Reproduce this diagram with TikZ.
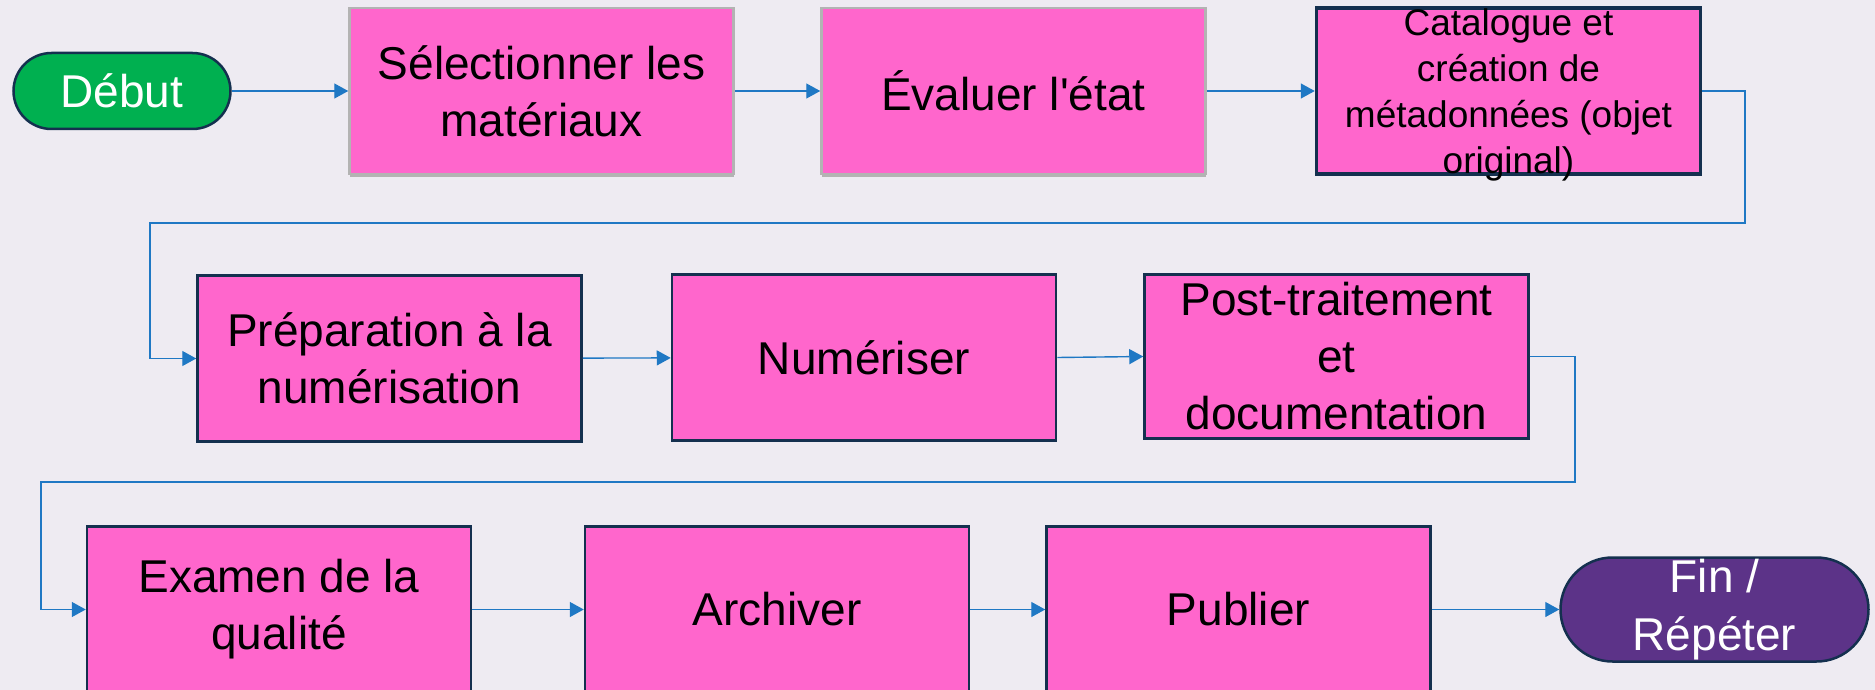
\documentclass[tikz,border=0pt]{standalone}
\usepackage{fontspec}
\setmainfont{Liberation Sans}
\usetikzlibrary{arrows.meta,shadows}
\definecolor{bgc}{HTML}{EEEBF2}
\definecolor{pinkfill}{HTML}{FF66CC}
\definecolor{navy}{HTML}{14304F}
\definecolor{startgreen}{HTML}{00B050}
\definecolor{endpurple}{HTML}{5C3388}
\definecolor{flowblue}{HTML}{1F78C4}
\definecolor{softgray}{HTML}{B3B3B3}
\newcommand\flowfont{\fontsize{46}{57}\selectfont}
\newcommand\smallflowfont{\fontsize{37}{46}\selectfont}
\tikzset{
  stepbox/.style={draw=navy, line width=2.5pt, fill=pinkfill, inner sep=0pt,
    minimum width=384pt, minimum height=166pt, align=center, font=\flowfont},
  lightbox/.style={stepbox, draw=softgray,
    drop shadow={shadow xshift=0pt, shadow yshift=-3pt, fill=softgray, opacity=1}},
  pill/.style={draw=navy, line width=2.5pt, rounded corners=#1, inner sep=0pt,
    align=center, font=\flowfont, text=white},
  flow/.style={draw=flowblue, line width=1.4pt,
    -{Triangle[length=14pt,width=15pt]}}
}
\begin{document}
\begin{tikzpicture}[x=1pt,y=-1pt]
\useasboundingbox (0,0) rectangle (1875,690);
\fill[bgc] (0,0) rectangle (1875,690);
\begin{scope}
\clip (0,0) rectangle (1875,690);

% first row
\node[pill=38pt, fill=startgreen, minimum width=217pt, minimum height=76pt] (debut) at (122,91) {Début};
\node[lightbox] (sel) at (541.5,91) {Sélectionner les\\matériaux};
\node[lightbox] (eval) at (1013.5,91) {Évaluer l\textquotesingle état};
\node[stepbox, line width=3.5pt] (cat) at (1508.5,91) {};
\node[font=\smallflowfont, align=center, inner sep=0pt] (cattext) at ([yshift=-4pt]cat.center)
  {Catalogue et\\création de\\métadonnées (objet\\original)};

% second row
\node[stepbox] (prep) at (389.5,358.5) {Préparation à la\\numérisation};
\node[stepbox] (num) at (864,357.5) {Numériser};
\node[stepbox, minimum height=164pt] (post) at (1336.5,356.5) {Post-traitement\\et\\documentation};

% third row
\node[stepbox] (exam) at (279,609.5) {Examen de la\\qualité};
\node[stepbox] (arch) at (777,609.5) {Archiver};
\node[stepbox] (pub) at (1238.5,609.5) {Publier};
\node[pill=52pt, fill=endpurple, minimum width=308pt, minimum height=104pt,
  font=\fontsize{46}{58}\selectfont] (fin) at (1714.5,609.5) {Fin /\\Répéter};

% turning points of the return lines
\coordinate (r1) at (1745,223);
\coordinate (l1) at (150,223);
\coordinate (r2) at (1575,482);
\coordinate (l2) at (41,482);

% connectors
\draw[flow] (debut) -- (sel);
\draw[flow] (sel) -- (eval);
\draw[flow] (eval) -- (cat);
\draw[flow] (cat.east) -| (r1) -- (l1) |- (prep.west);
\draw[flow] (prep) -- (num);
\draw[flow] (num.east) -- (post.west);
\draw[flow] (post.east) -| (r2) -- (l2) |- (exam.west);
\draw[flow] (exam) -- (arch);
\draw[flow] (arch) -- (pub);
\draw[flow] (pub) -- (fin);
\end{scope}
\end{tikzpicture}
\end{document}
